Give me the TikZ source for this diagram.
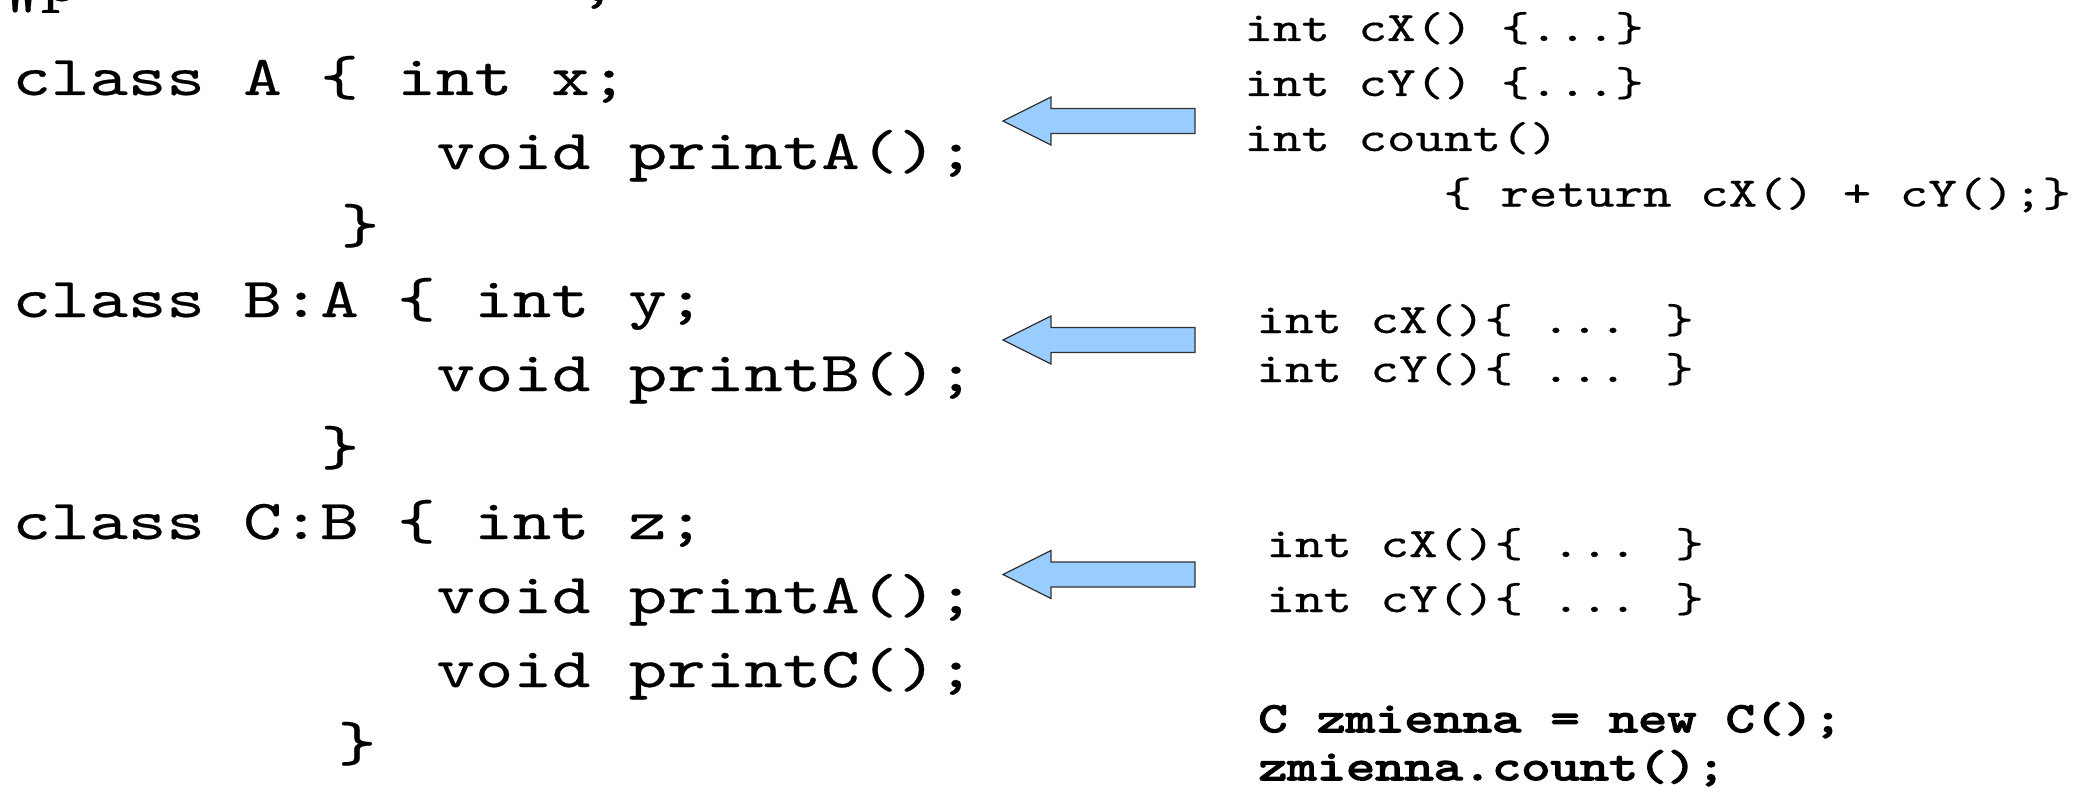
\documentclass[tikz,border=0pt]{standalone}
\usepackage{fontspec}
\newfontfamily\codefont[FakeStretch=1.3,FakeBold=0.35]{lmmono10-regular.otf}
\newfontfamily\codebold[FakeStretch=1.3,FakeBold=3.5]{lmmono10-regular.otf}
\definecolor{arrowblue}{HTML}{99CCFF}

\begin{document}
\begin{tikzpicture}
		[x=0.5pt,y=-0.5pt,
		code node/.style={anchor=base west,inner sep=0,font={\codefont\fontsize{28.2}{34}\selectfont}},
		small node/.style={anchor=base west,inner sep=0,font={\codefont\fontsize{20.9}{27}\selectfont}},
		bold node/.style={anchor=base west,inner sep=0,font={\codebold\fontsize{21.4}{27}\selectfont}},
		block arrow/.style={fill=arrowblue,draw=black!80,line width=0.6pt,line join=miter}]
		\path[use as bounding box] (0,0) rectangle (2089,797);
		
		% cut-off line at the top
		\begin{scope}
		\clip (0,0) rectangle (2089,13);
		\node[code node] (top1) at (2,1) {„p};
		\node[code node] (top2) at (578,1) {;};
		\end{scope}
		
		% classes
		\node[code node] (a1) at (12,95) {class A \{ int x;};
		\node[code node] (a2) at (436,169) {void printA();};
		\node[code node,anchor=base] (a3) at (360,243) {\}};
		
		\node[code node] (b1) at (12,317) {class B:A \{ int y;};
		\node[code node] (b2) at (436,391) {void printB();};
		\node[code node,anchor=base] (b3) at (340,465) {\}};
		
		\node[code node] (c1) at (12,539) {class C:B \{ int z;};
		\node[code node] (c2) at (436,613) {void printA();};
		\node[code node] (c3) at (436,687) {void printC();};
		\node[code node,anchor=base] (c4) at (357,761) {\}};
		
		% methods
		\node[small node] (r1) at (1244,41) {int cX() \{...\}};
		\node[small node] (r2) at (1244,96) {int cY() \{...\}};
		\node[small node] (r3) at (1244,151) {int count()};
		\node[small node] (r4) at (1443,206.5) {\{ return cX() + cY();\}};
		
		\node[small node] (s1) at (1256,333) {int cX()\{ ... \}};
		\node[small node] (s2) at (1256,382) {int cY()\{ ... \}};
		
		\node[small node] (t1) at (1266,557) {int cX()\{ ... \}};
		\node[small node] (t2) at (1266,612) {int cY()\{ ... \}};
		
		\node[bold node] (u1) at (1258,732) {C zmienna = new C();};
		\node[bold node] (u2) at (1258,780) {zmienna.count();};
		
		% arrows
		\foreach \y in {121,340,574.5}
		\draw[block arrow] (1003,\y) -- (1051,\y-24) -- (1051,\y-12.5) -- (1195,\y-12.5)
		-- (1195,\y+12.5) -- (1051,\y+12.5) -- (1051,\y+24) -- cycle;
		\end{tikzpicture}
\end{document}
